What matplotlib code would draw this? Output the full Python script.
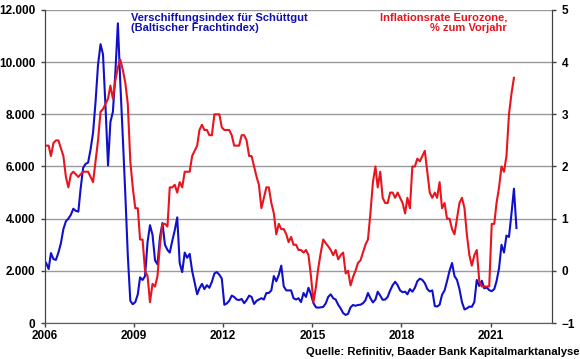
import matplotlib
matplotlib.use("Agg")
import matplotlib.pyplot as plt
import matplotlib.dates as mdates
import matplotlib.ticker as mticker
import pandas as pd

# ── data (monthly) ───────────────────────────────────────────────────────────
bdi_2006 = [2300, 2070, 2680, 2450, 2420, 2700, 3050, 3600, 3900, 4000, 4150, 4380]
bdi_2007 = [4300, 4270, 5150, 5950, 6100, 6150, 6650, 7300, 8500, 9900, 10690, 10300]
bdi_2008 = [8300, 6040, 7700, 8100, 9600, 11490, 9200, 7100, 4900, 2600, 850, 720]
bdi_2009 = [800, 1100, 1750, 1650, 1800, 3100, 3750, 3380, 2400, 2250, 3300, 3830]
bdi_2010 = [3000, 2800, 2700, 3150, 3550, 4050, 2300, 1950, 2700, 2500, 2650, 2000]
bdi_2011 = [1550, 1100, 1330, 1500, 1300, 1450, 1350, 1580, 1900, 1950, 1850, 1700]
bdi_2012 = [700, 750, 850, 1050, 1000, 900, 880, 920, 760, 880, 1050, 1000]
bdi_2013 = [730, 850, 900, 950, 900, 1150, 1150, 1250, 1800, 1600, 1850, 2200]
bdi_2014 = [1400, 1250, 1250, 1250, 950, 900, 950, 800, 1150, 1000, 1350, 1100]
bdi_2015 = [760, 600, 590, 600, 620, 750, 1000, 1100, 950, 900, 700, 560]
bdi_2016 = [380, 310, 350, 600, 690, 660, 690, 700, 760, 870, 1150, 950]
bdi_2017 = [790, 900, 1200, 1050, 890, 900, 1000, 1250, 1450, 1580, 1450, 1250]
bdi_2018 = [1180, 1200, 1100, 1300, 1200, 1350, 1600, 1700, 1650, 1530, 1300, 1210]
bdi_2019 = [1250, 650, 630, 700, 1080, 1250, 1600, 2000, 2300, 1800, 1650, 1300]
bdi_2020 = [800, 520, 560, 630, 620, 800, 1650, 1420, 1620, 1330, 1360, 1260]
bdi_2021 = [1220, 1300, 1600, 2100, 3000, 2700, 3350, 3300, 4200, 5150, 3640]

cpi_2006 = [2.4, 2.4, 2.2, 2.45, 2.5, 2.5, 2.35, 2.2, 1.8, 1.6, 1.85, 1.9]
cpi_2007 = [1.85, 1.8, 1.85, 1.9, 1.9, 1.9, 1.8, 1.7, 2.1, 2.5, 3.05, 3.1]
cpi_2008 = [3.2, 3.3, 3.55, 3.3, 3.65, 3.9, 4.05, 3.85, 3.6, 3.2, 2.1, 1.6]
cpi_2009 = [1.2, 1.2, 0.6, 0.6, 0.0, -0.1, -0.6, -0.25, -0.3, -0.1, 0.5, 0.9]
cpi_2010 = [0.9, 0.85, 1.6, 1.6, 1.65, 1.5, 1.7, 1.6, 1.9, 1.9, 1.9, 2.2]
cpi_2011 = [2.3, 2.4, 2.7, 2.8, 2.7, 2.7, 2.6, 2.6, 3.0, 3.0, 3.0, 2.75]
cpi_2012 = [2.7, 2.7, 2.7, 2.6, 2.4, 2.4, 2.4, 2.6, 2.6, 2.5, 2.2, 2.2]
cpi_2013 = [2.0, 1.8, 1.65, 1.2, 1.4, 1.6, 1.6, 1.3, 1.1, 0.7, 0.9, 0.8]
cpi_2014 = [0.8, 0.7, 0.55, 0.65, 0.5, 0.5, 0.4, 0.4, 0.35, 0.4, 0.3, -0.1]
cpi_2015 = [-0.6, -0.3, 0.05, 0.35, 0.6, 0.53, 0.47, 0.4, 0.3, 0.4, 0.22, 0.3]
cpi_2016 = [0.35, -0.05, 0.0, -0.28, -0.12, 0.0, 0.15, 0.2, 0.35, 0.5, 0.6, 1.1]
cpi_2017 = [1.7, 2.0, 1.6, 1.9, 1.4, 1.3, 1.3, 1.5, 1.5, 1.4, 1.5, 1.4]
cpi_2018 = [1.3, 1.1, 1.4, 1.2, 2.0, 2.0, 2.15, 2.1, 2.2, 2.3, 1.9, 1.5]
cpi_2019 = [1.4, 1.5, 1.4, 1.7, 1.2, 1.3, 1.0, 1.0, 0.8, 0.7, 1.0, 1.3]
cpi_2020 = [1.4, 1.2, 0.7, 0.3, 0.1, 0.3, 0.4, -0.2, -0.3, -0.3, -0.3, -0.3]
cpi_2021 = [0.9, 0.9, 1.3, 1.6, 2.0, 1.9, 2.2, 3.0, 3.4, 3.7]

bdi = (bdi_2006 + bdi_2007 + bdi_2008 + bdi_2009 + bdi_2010 + bdi_2011 + bdi_2012
       + bdi_2013 + bdi_2014 + bdi_2015 + bdi_2016 + bdi_2017 + bdi_2018 + bdi_2019
       + bdi_2020 + bdi_2021)
cpi = (cpi_2006 + cpi_2007 + cpi_2008 + cpi_2009 + cpi_2010 + cpi_2011 + cpi_2012
       + cpi_2013 + cpi_2014 + cpi_2015 + cpi_2016 + cpi_2017 + cpi_2018 + cpi_2019
       + cpi_2020 + cpi_2021)

bdi_dates = pd.date_range("2006-01-01", periods=len(bdi), freq="MS") + pd.Timedelta(days=14)
cpi_dates = pd.date_range("2006-01-01", periods=len(cpi), freq="MS") + pd.Timedelta(days=14)

TICK_YEARS = [2006, 2009, 2012, 2015, 2018, 2021]

BLUE = "#1010CC"
RED = "#E8141E"
GRID = "#9a9a9a"

plt.rcParams["font.family"] = ["Liberation Sans", "DejaVu Sans"]
plt.rcParams["font.weight"] = "bold"

# ── figure ───────────────────────────────────────────────────────────────────
fig = plt.figure(figsize=(5.8, 3.59), dpi=100)
ax = fig.add_axes([45 / 580, 36 / 359, 507 / 580, 313 / 359])
ax2 = ax.twinx()

ax.plot(bdi_dates, bdi, color=BLUE, lw=1.5)
ax2.plot(cpi_dates, cpi, color=RED, lw=1.5)

ax.set_ylim(0, 12000)
ax.set_yticks(range(0, 12001, 2000))
ax.yaxis.set_major_formatter(mticker.FuncFormatter(lambda v, _: f"{v:,.0f}".replace(",", ".")))
ax2.set_ylim(-1, 5)
ax2.set_yticks(range(-1, 6))

ax.set_xlim(pd.Timestamp("2006-01-01"), pd.Timestamp("2023-01-26"))
ax.set_xticks([pd.Timestamp(f"{y}-01-01") for y in TICK_YEARS])
ax.xaxis.set_major_formatter(mdates.DateFormatter("%Y"))

ax.grid(axis="y", color=GRID, lw=1.0)
ax.set_axisbelow(True)

for a in (ax, ax2):
    a.spines["top"].set_visible(False)
    a.spines["left"].set_color("#404040")
    a.spines["right"].set_color("#404040")
    a.spines["bottom"].set_color("#606060")
ax.tick_params(axis="y", labelsize=8.5, length=3, width=1, colors="#404040",
               labelcolor="black", pad=4)
ax.tick_params(axis="x", labelsize=8.5, length=3, width=1, colors="#404040",
               labelcolor="black", pad=2)
ax2.tick_params(axis="y", labelsize=8.5, length=3, width=1, colors="#404040",
                labelcolor="black", pad=4)

fig.text(131 / 580, 1 - 13 / 359, "Verschiffungsindex für Schüttgut\n(Baltischer Frachtindex)",
         color="#1010B0", fontsize=8, fontweight="bold", ha="left", va="top", linespacing=1.05)
fig.text(507 / 580, 1 - 13 / 359, "Inflationsrate Eurozone,\n% zum Vorjahr",
         color=RED, fontsize=8, fontweight="bold", ha="right", va="top", linespacing=1.05,
         multialignment="right")
fig.text(579 / 580, 2 / 359, "Quelle: Refinitiv, Baader Bank Kapitalmarktanalyse",
         color="black", fontsize=8.1, fontweight="bold", ha="right", va="bottom")

fig.savefig("out.png", dpi=100)
